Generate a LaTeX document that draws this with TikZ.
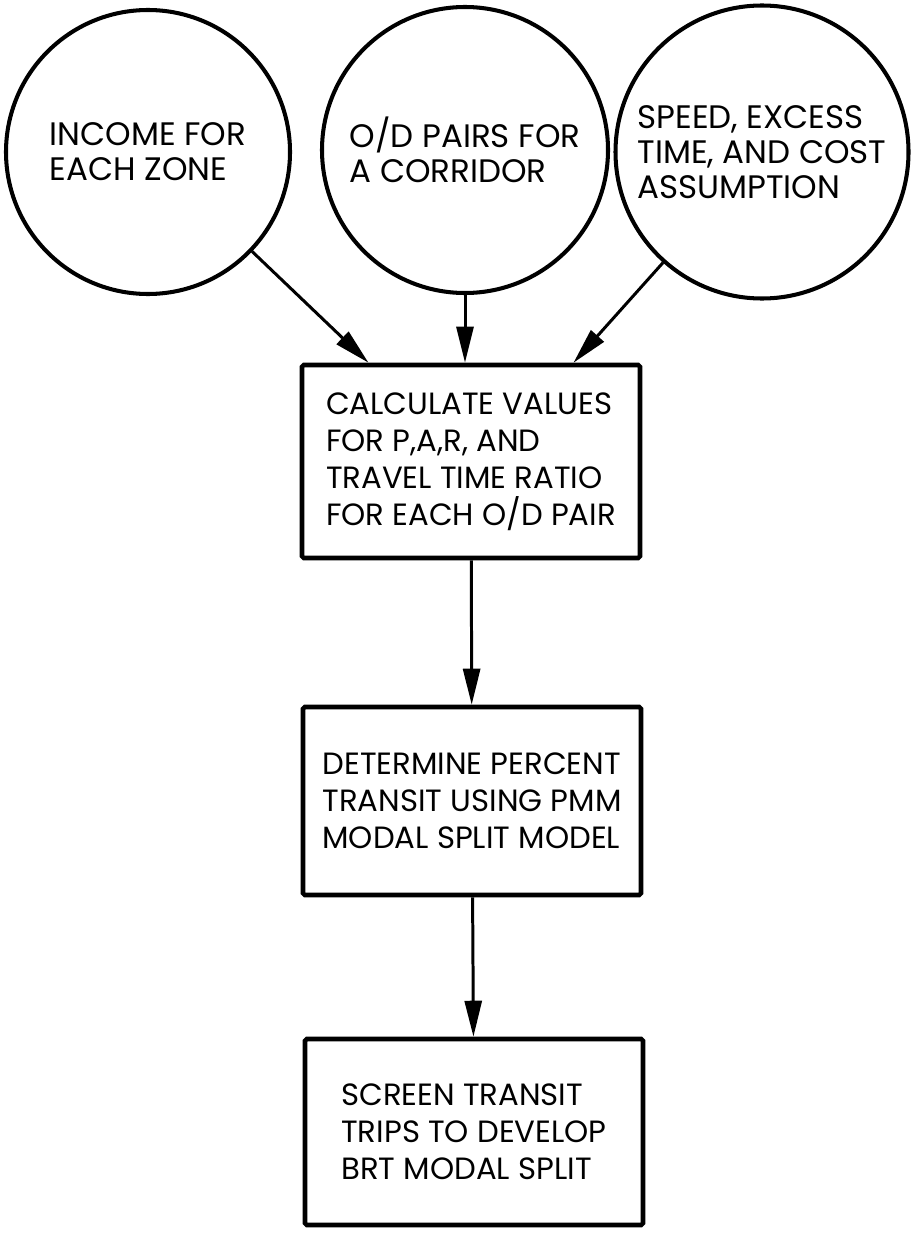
\documentclass[tikz,border=0pt]{standalone}
\usepackage{fontspec}
\setmainfont{Poppins}
\usetikzlibrary{arrows.meta}

\begin{document}
\begin{tikzpicture}[
    x=1cm, y=1cm,
    every node/.style={font=\fontsize{17.5}{21}\selectfont},
    inp/.style={
        draw,
        circle,
        line width=2.3pt,
        align=left,
        inner sep=0pt,
        font=\fontsize{18.5}{20}\selectfont
    },
    stepbox/.style={
        draw,
        line width=2.6pt,
        rounded corners=1pt,
        align=left,
        minimum width=6.76cm
    },
    arr/.style={-{Triangle[length=0.72cm, width=0.34cm]}, line width=1.7pt}
]

    \useasboundingbox (0,0) rectangle (18.28,-24.74);

    % Input circles
    \node[inp, minimum size=5.68cm] (income) at (2.96,-3.04)
        {INCOME FOR\\EACH ZONE};
    \node[inp, minimum size=5.72cm] (odpairs) at (9.30,-3.00)
        {O/D PAIRS FOR\\A CORRIDOR};
    \node[inp, minimum size=5.86cm] (speed) at (15.24,-3.04)
        {SPEED, EXCESS\\TIME, AND COST\\ASSUMPTION};

    % Processing steps
    \node[stepbox, minimum height=3.86cm] (calc) at (9.42,-9.23)
        {CALCULATE VALUES\\FOR P,A,R, AND\\TRAVEL TIME RATIO\\FOR EACH O/D PAIR};
    \node[stepbox, minimum height=3.76cm] (pmm) at (9.44,-16.02)
        {DETERMINE PERCENT\\TRANSIT USING PMM\\MODAL SPLIT MODEL};
    \node[stepbox, minimum height=3.72cm] (screen) at (9.48,-22.64)
        {SCREEN TRANSIT\\TRIPS TO DEVELOP\\BRT MODAL SPLIT};

    % Arrows
    \draw[arr] (income) -- ([xshift=-2.05cm]calc.north);
    \draw[arr] (odpairs.south) -- (odpairs.south |- calc.north);
    \draw[arr] (speed) -- ([xshift=2.05cm]calc.north);

    \draw[arr] (calc) -- (pmm);
    \draw[arr] (pmm) -- (screen);

\end{tikzpicture}
\end{document}
